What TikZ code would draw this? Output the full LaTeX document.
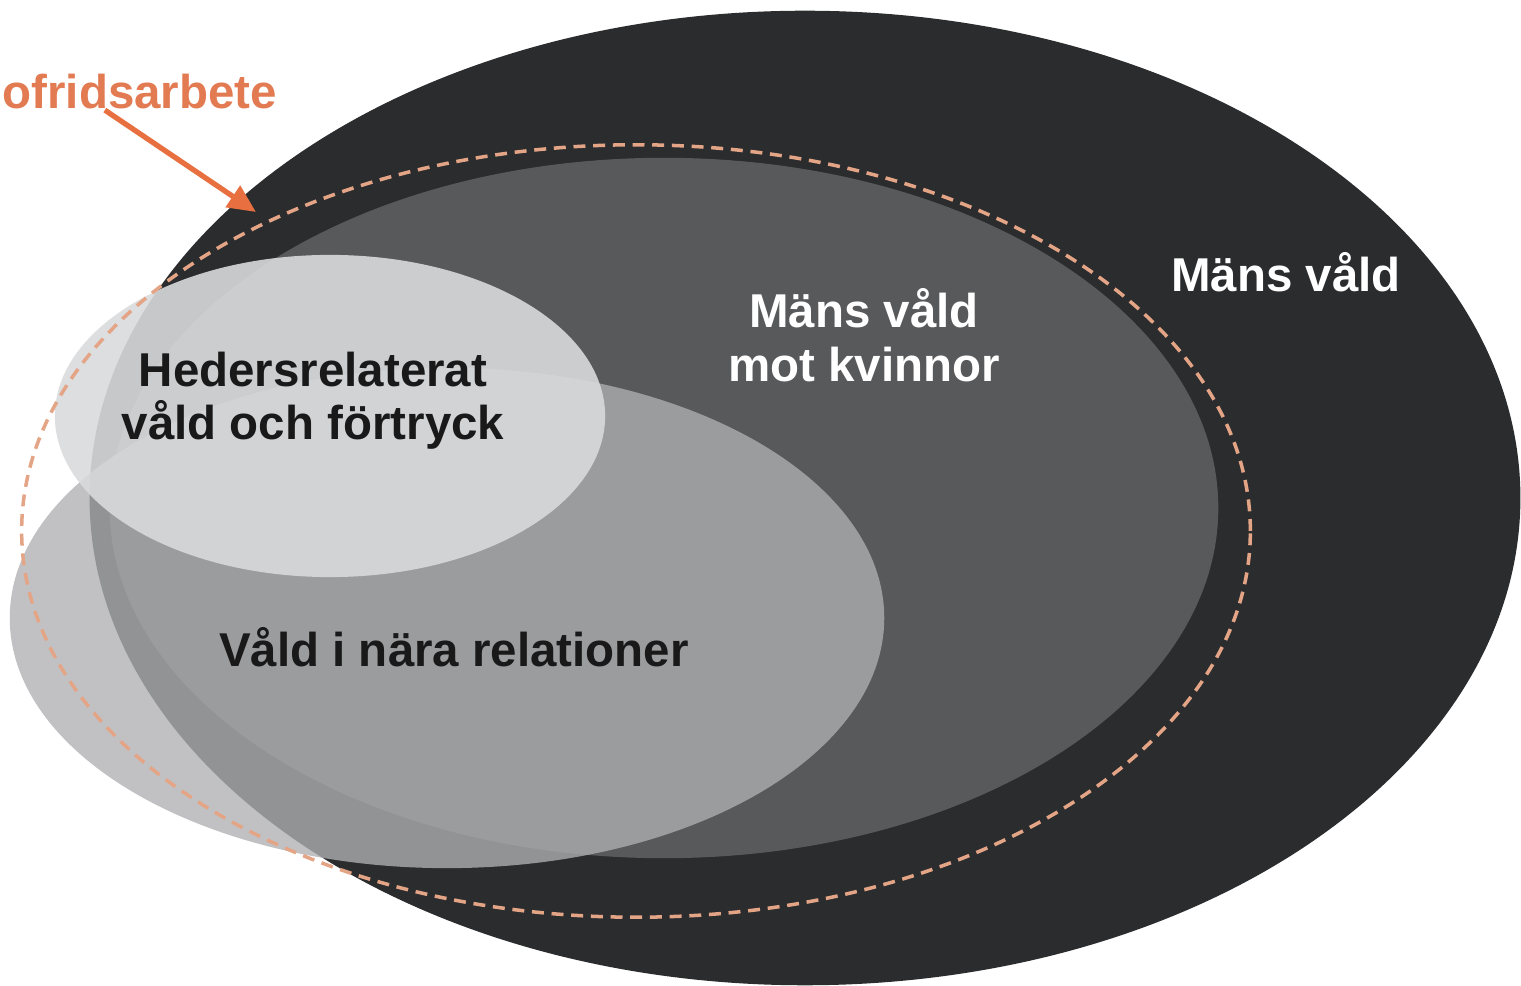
\documentclass[tikz,border=0pt]{standalone}
\usepackage{fontspec}
\setmainfont{Liberation Sans}
\usetikzlibrary{arrows.meta}

\definecolor{outer area}{RGB}{43,44,46}
\definecolor{middle area}{RGB}{88,89,91}
\definecolor{near area}{RGB}{175,176,178}
\definecolor{honour area}{RGB}{217,218,220}
\definecolor{ofrid line}{RGB}{228,164,134}
\definecolor{ofrid arrow}{RGB}{232,112,64}
\definecolor{ofrid text}{RGB}{226,122,82}
\tikzset{filled/.style={fill=#1, draw=none},
    dashline/.style={draw=ofrid line, line width=1pt, dash pattern=on 3.4pt off 2.2pt},
    venntext/.style={font=\bfseries\fontsize{13.5}{15.2}\selectfont, align=center, inner sep=0pt},
    pointer/.style={-{Triangle[length=2.8mm,width=2.5mm]}, line width=1.5pt, draw=ofrid arrow}}
\def\ellipseMV{(805,498) ellipse [x radius=7.15cm, y radius=4.87cm]}
\def\ellipseMVK{(664,508) ellipse [x radius=5.54cm, y radius=3.5cm]}
\def\ellipseNR{(447,618) ellipse [x radius=4.37cm, y radius=2.5cm]}
\def\ellipseHV{(330,416) ellipse [x radius=2.75cm, y radius=1.61cm]}
\def\ellipseOF{(636,531) ellipse [x radius=6.14cm, y radius=3.86cm]}

\begin{document}
\begin{tikzpicture}[x=0.01cm, y=-0.01cm]
     \useasboundingbox (0,0) rectangle (1521,986);
     \fill[filled=outer area] \ellipseMV;
     \fill[filled=middle area] \ellipseMVK;
     \fill[filled=near area, fill opacity=0.78] \ellipseNR;
     \fill[filled=honour area, fill opacity=0.9] \ellipseHV;
     \draw[dashline] \ellipseOF;
     % texts
     \node[venntext, text=white] (mv) at (1286,272) {Mäns våld};
     \node[venntext, text=white] (mvk) at (864,335) {Mäns våld\\mot kvinnor};
     \node[venntext, text=black!90] (hv) at (313,401) {Hedersrelaterat\\våld och förtryck};
     \node[venntext, text=black!90] (nr) at (454,647) {Våld i nära relationer};
     \node[venntext, text=ofrid text, anchor=west] (of) at (2,92) {ofridsarbete};
     \coordinate (tip) at (256,212);
     \draw[pointer] ([xshift=-0.35cm]of.south) -- (tip);
\end{tikzpicture}
\end{document}
